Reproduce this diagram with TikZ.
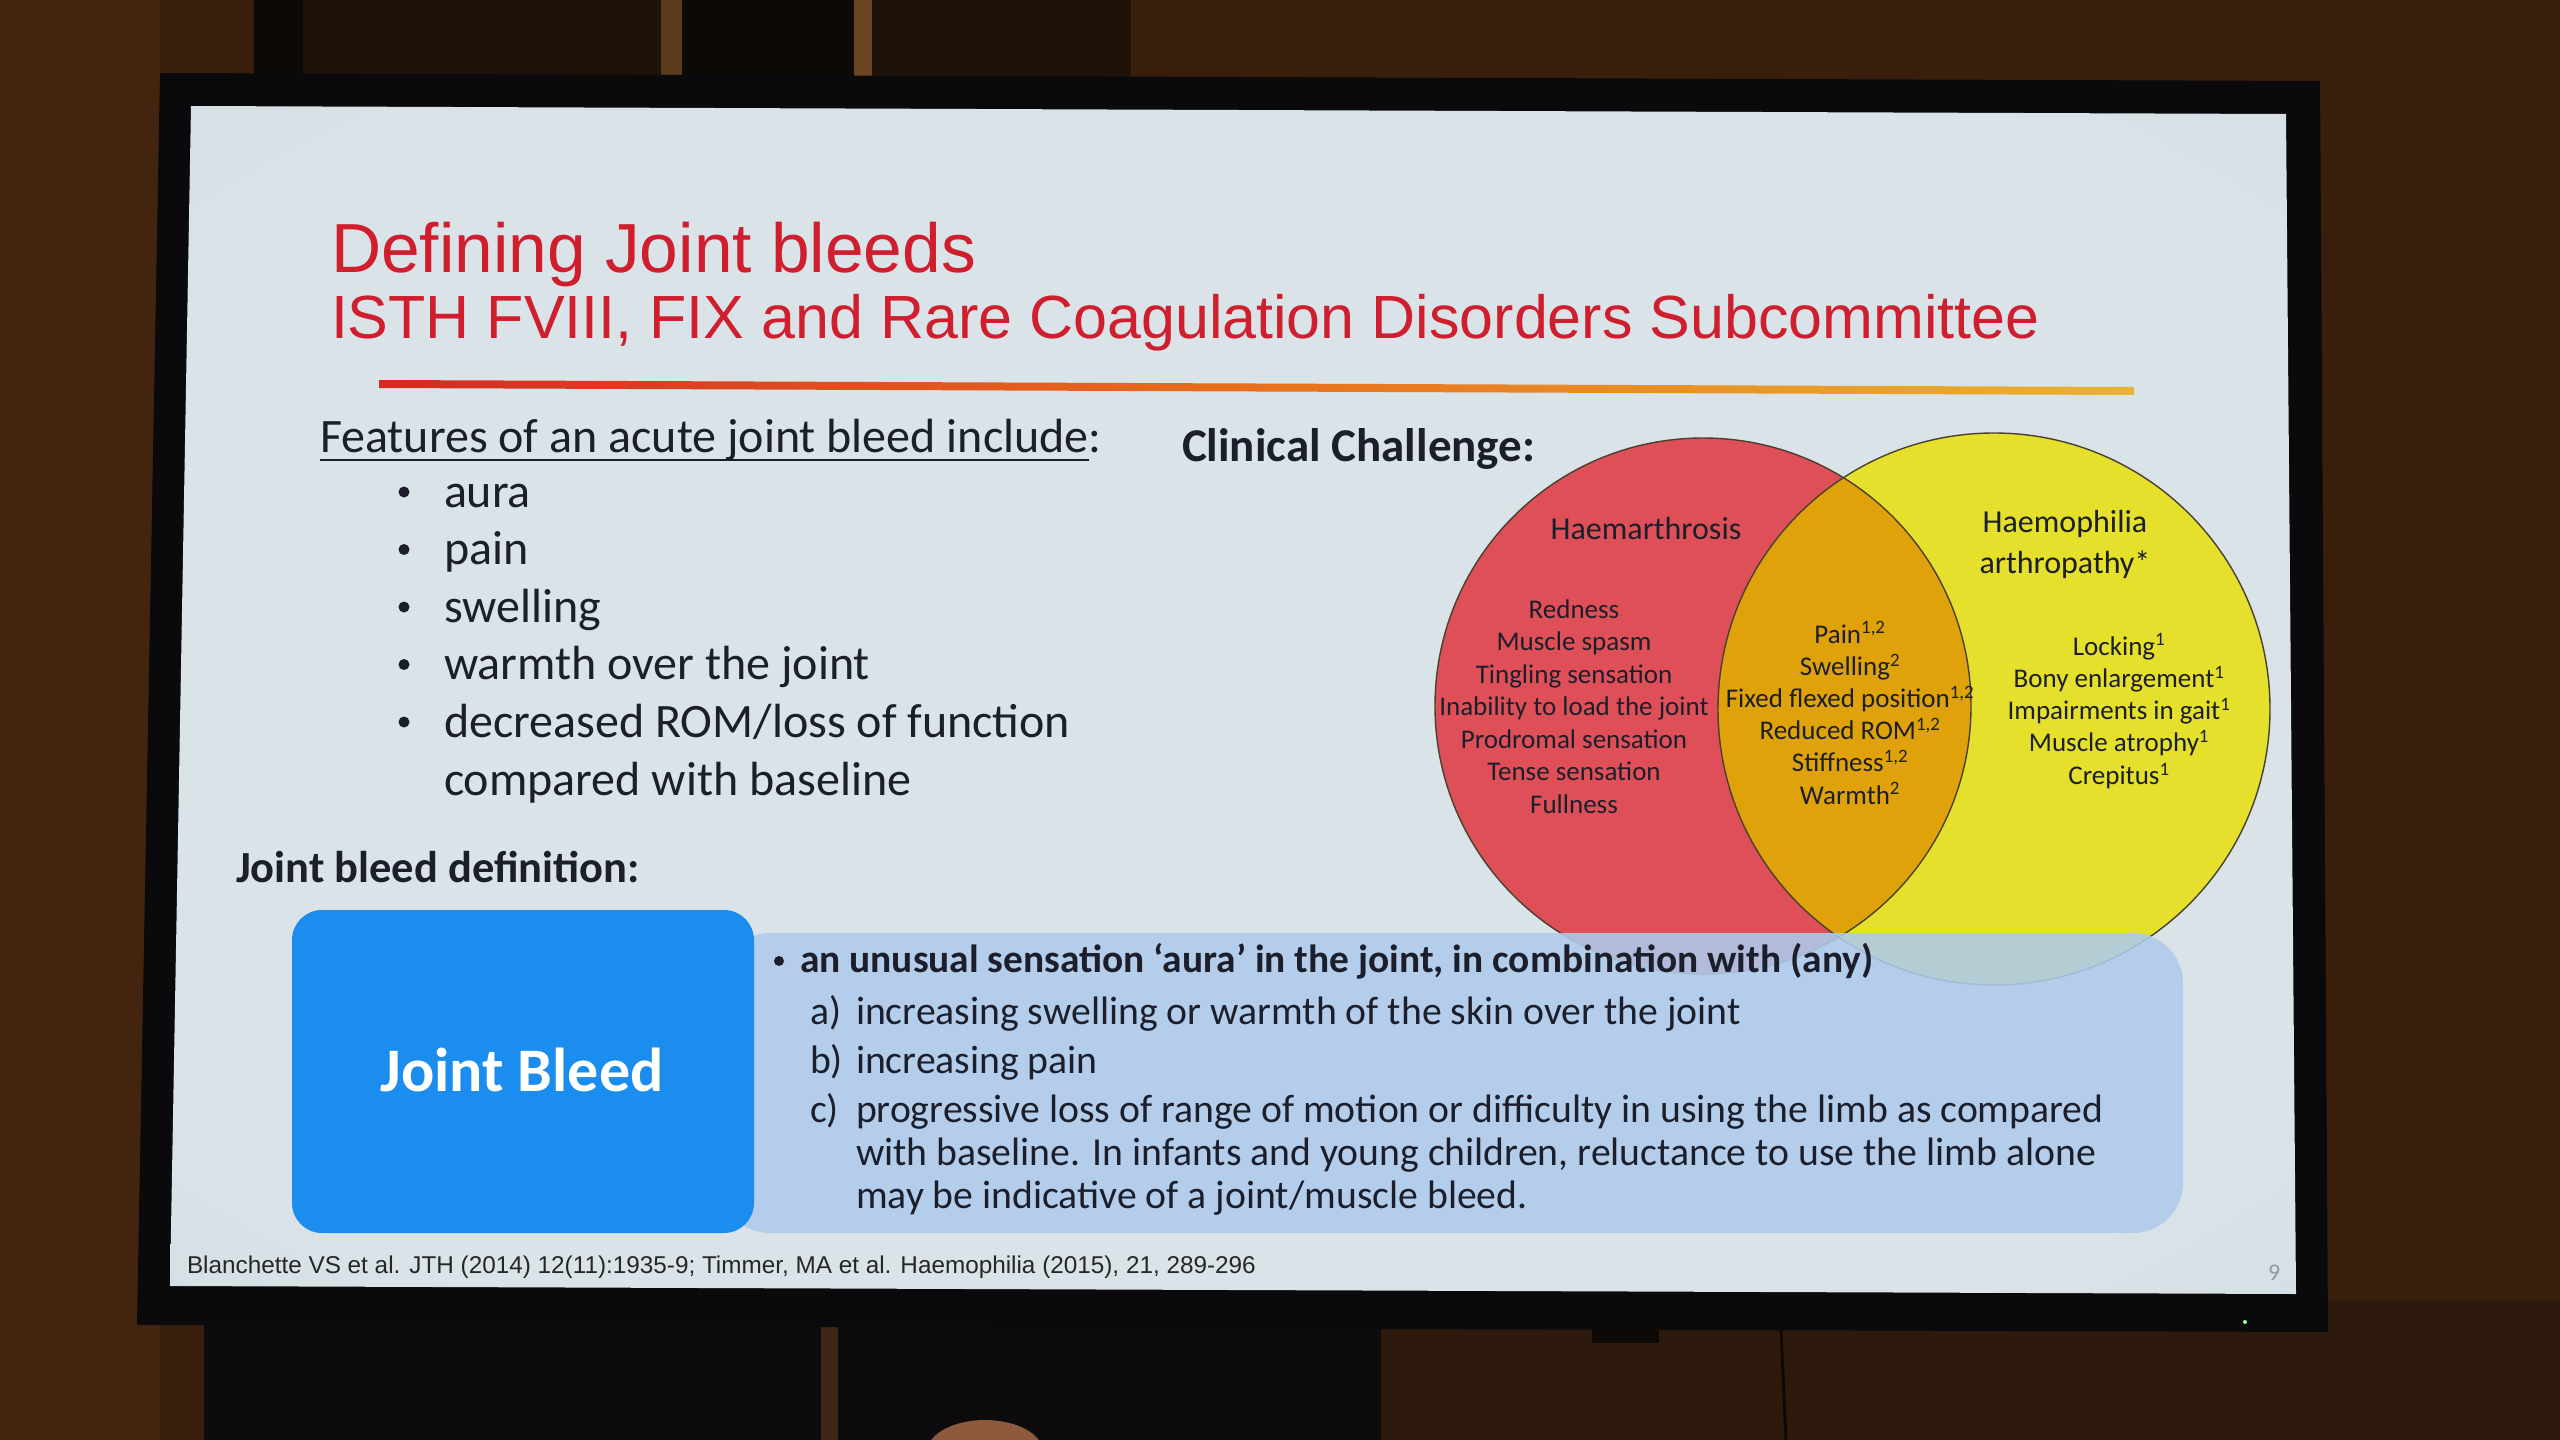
\documentclass[tikz,border=0pt]{standalone}
\usepackage{fontspec}
\setmainfont{Carlito}
\newfontfamily\arialf{Liberation Sans}
\definecolor{bgbrown}{HTML}{3A1E0C}
\definecolor{bgleft}{HTML}{43250F}
\definecolor{postdark}{HTML}{1E120A}
\definecolor{postblack}{HTML}{0D0907}
\definecolor{poststripeA}{HTML}{5C3A1C}
\definecolor{poststripeB}{HTML}{6B4522}
\definecolor{underdark}{HTML}{0D0B0C}
\definecolor{underbrown}{HTML}{2E1A0C}
\definecolor{framec}{HTML}{0A0A0C}
\definecolor{slideC}{HTML}{DAE3E8}
\definecolor{slideE}{HTML}{C9D5DB}
\definecolor{slideK}{HTML}{A7B5BD}
\definecolor{ttlred}{HTML}{CF1F2E}
\definecolor{txt}{HTML}{1C1F2B}
\definecolor{barR}{HTML}{D42A22}
\definecolor{barO}{HTML}{E8701C}
\definecolor{barY}{HTML}{E8B432}
\definecolor{redc}{HTML}{DE4F58}
\definecolor{yelc}{HTML}{E5E02C}
\definecolor{orc}{HTML}{E0A20A}
\definecolor{outc}{HTML}{4A4030}
\definecolor{bluebox}{HTML}{1B8DEF}
\definecolor{lightbox}{HTML}{AECBEC}
\definecolor{pagegray}{HTML}{8C9CA6}
\definecolor{skin}{HTML}{8E5A3E}
\pgfdeclareradialshading{slideshade}{\pgfpoint{0bp}{0bp}}{color(0bp)=(slideC); color(30bp)=(slideC); color(49bp)=(slideE); color(72bp)=(slideK)}
\tikzset{
  st/.style={inner sep=0pt, outer sep=0pt, text=txt},
  ttl/.style={st, anchor=base west, text=ttlred, font=\arialf\fontsize{69.5}{80}\selectfont},
  subttl/.style={st, anchor=base west, text=ttlred, font=\arialf\fontsize{61}{70}\selectfont},
  body/.style={st, anchor=base west, font=\fontsize{48}{56}\selectfont},
  bodyb/.style={st, anchor=base west, font=\bfseries\fontsize{47}{56}\selectfont},
  dot/.style={circle, fill=txt, inner sep=0pt, outer sep=0pt, minimum size=#1},
  vhead/.style={st, anchor=base, font=\fontsize{32}{38}\selectfont},
  vlist/.style={st, anchor=base, font=\fontsize{27}{32}\selectfont},
  deftext/.style={st, anchor=base west, font=\fontsize{39.7}{46}\selectfont},
  deftextb/.style={st, anchor=base west, font=\bfseries\fontsize{39.4}{46}\selectfont},
  cite/.style={st, anchor=base west, text=black!85, font=\arialf\fontsize{24.3}{28}\selectfont},
  vennline/.style={draw=outc, line width=1.4pt},
}
\begin{document}
\begin{tikzpicture}[x=1pt,y=-1pt]
\useasboundingbox (0,0) rectangle (2560,1440);
% ---- room background ----
\fill[bgbrown] (0,0) rectangle (2560,1440);
\fill[bgleft] (0,0) rectangle (160,1440);
\fill[postdark] (254,0) rectangle (1131,90);
\fill[postblack] (254,0) rectangle (303,90);
\fill[postblack] (682,0) rectangle (854,90);
\fill[poststripeA] (661,0) rectangle (682,90);
\fill[poststripeB] (854,0) rectangle (872,90);
\fill[underdark] (204,1300) rectangle (1381,1440);
\fill[poststripeA!60!underdark] (821,1300) rectangle (838,1440);
\fill[underbrown] (1381,1300) rectangle (2560,1440);
\draw[postblack, line width=3pt] (1781,1330) -- (1786,1440);
\fill[skin] (985,1452) ellipse[x radius=58pt, y radius=32pt];
% ---- monitor ----
\fill[framec] (160,73) -- (2320,81) -- (2328,1332) -- (137,1325) -- cycle;
\fill[postblack] (1592,1328) rectangle (1659,1343);
\fill[green!40!white] (2245,1322) circle[radius=2pt];
% ---- slide ----
\shade[shading=slideshade] (191,106) -- (2286,114) -- (2296,1294) -- (170,1286) -- cycle;
% title
\node[ttl] (title) at (331,272) {Defining Joint bleeds};
\node[subttl] (subtitle) at (331,338) {ISTH FVIII, FIX and Rare Coagulation Disorders Subcommittee};
\shade[left color=barR, right color=barY, middle color=barO] (379,380) -- (2134,387) -- (2134,395) -- (379,388) -- cycle;
% features
\node[body] (feat) at (320,452) {Features of an acute joint bleed include};
\node[body, anchor=base west] (featcolon) at (feat.base east) {:};
\draw[txt, line width=2.6pt] ([yshift=-8pt]feat.base west) -- ([yshift=-8pt]feat.base east);
\foreach \t [count=\i] in {aura, pain, swelling, warmth over the joint, decreased ROM/loss of function} {
  \pgfmathsetmacro\yy{507+57.5*(\i-1)}
  \node[body] (fb\i) at (444,\yy) {\t};
  \pgfmathsetmacro\yd{\yy-15}
  \node[dot=11pt] (fbd\i) at (404,\yd) {};
}
\node[body] (fb6) at (444,795) {compared with baseline};
\node[bodyb] (clin) at (1182,461) {Clinical Challenge:};
\node[bodyb, font=\bfseries\fontsize{44.5}{54}\selectfont] (jbdef) at (236,882) {Joint bleed definition:};
% ---- venn ----
\fill[redc] (1703,706) circle[radius=268pt];
\fill[yelc] (1994,709) circle[radius=276pt];
\begin{scope}
  \clip (1703,706) circle[radius=268pt];
  \fill[orc] (1994,709) circle[radius=276pt];
\end{scope}
\draw[vennline] (1703,706) circle[radius=268pt];
\draw[vennline] (1994,709) circle[radius=276pt];
\node[vhead] (haem) at (1646,539) {Haemarthrosis};
\node[vhead] (hemo1) at (2065,532) {Haemophilia};
\node[vhead] (hemo2) at (2065,573) {arthropathy*};
\foreach \t [count=\i] in {Redness, Muscle spasm, Tingling sensation, Inability to load the joint, Prodromal sensation, Tense sensation, Fullness} {
  \pgfmathsetmacro\yy{618+32.5*(\i-1)}
  \node[vlist] (vl\i) at (1574,\yy) {\t};
}
\foreach \t [count=\i] in {{Pain\textsuperscript{1,2}}, {Swelling\textsuperscript{2}}, {Fixed flexed position\textsuperscript{1,2}}, {Reduced ROM\textsuperscript{1,2}}, {Stiffness\textsuperscript{1,2}}, {Warmth\textsuperscript{2}}} {
  \pgfmathsetmacro\yy{643+32.2*(\i-1)}
  \node[vlist] (vm\i) at (1850,\yy) {\t};
}
\foreach \t [count=\i] in {{Locking\textsuperscript{1}}, {Bony enlargement\textsuperscript{1}}, {Impairments in gait\textsuperscript{1}}, {Muscle atrophy\textsuperscript{1}}, {Crepitus\textsuperscript{1}}} {
  \pgfmathsetmacro\yy{655+32.3*(\i-1)}
  \node[vlist] (vr\i) at (2119,\yy) {\t};
}
% ---- definition boxes ----
\fill[lightbox, fill opacity=0.88, rounded corners=50pt] (720,933) rectangle (2183,1233);
\fill[bluebox, rounded corners=30pt] (292,910) rectangle (754,1233);
\node[st, anchor=base, text=white, font=\bfseries\fontsize{62}{70}\selectfont] (jb) at (522,1091) {Joint Bleed};
\node[dot=10pt] (d0b) at (779,961) {};
\node[deftextb] (d0) at (800,972) {an unusual sensation ‘aura’ in the joint, in combination with (any)};
\node[deftext] (dal) at (810,1024) {a)};
\node[deftext] (da) at (856,1024) {increasing swelling or warmth of the skin over the joint};
\node[deftext] (dbl) at (810,1073) {b)};
\node[deftext] (db) at (856,1073) {increasing pain};
\node[deftext] (dcl) at (810,1122) {c)};
\node[deftext] (dc1) at (856,1122) {progressive loss of range of motion or difficulty in using the limb as compared};
\node[deftext] (dc2) at (856,1165) {with baseline. In infants and young children, reluctance to use the limb alone};
\node[deftext] (dc3) at (856,1208) {may be indicative of a joint/muscle bleed.};
% ---- footer ----
\node[cite] (cit) at (187,1273) {Blanchette VS et al. JTH (2014) 12(11):1935-9; Timmer, MA et al. Haemophilia (2015), 21, 289-296};
\node[st, anchor=base west, text=pagegray, font=\fontsize{24}{28}\selectfont] (pg) at (2268,1280) {9};
\end{tikzpicture}
\end{document}
